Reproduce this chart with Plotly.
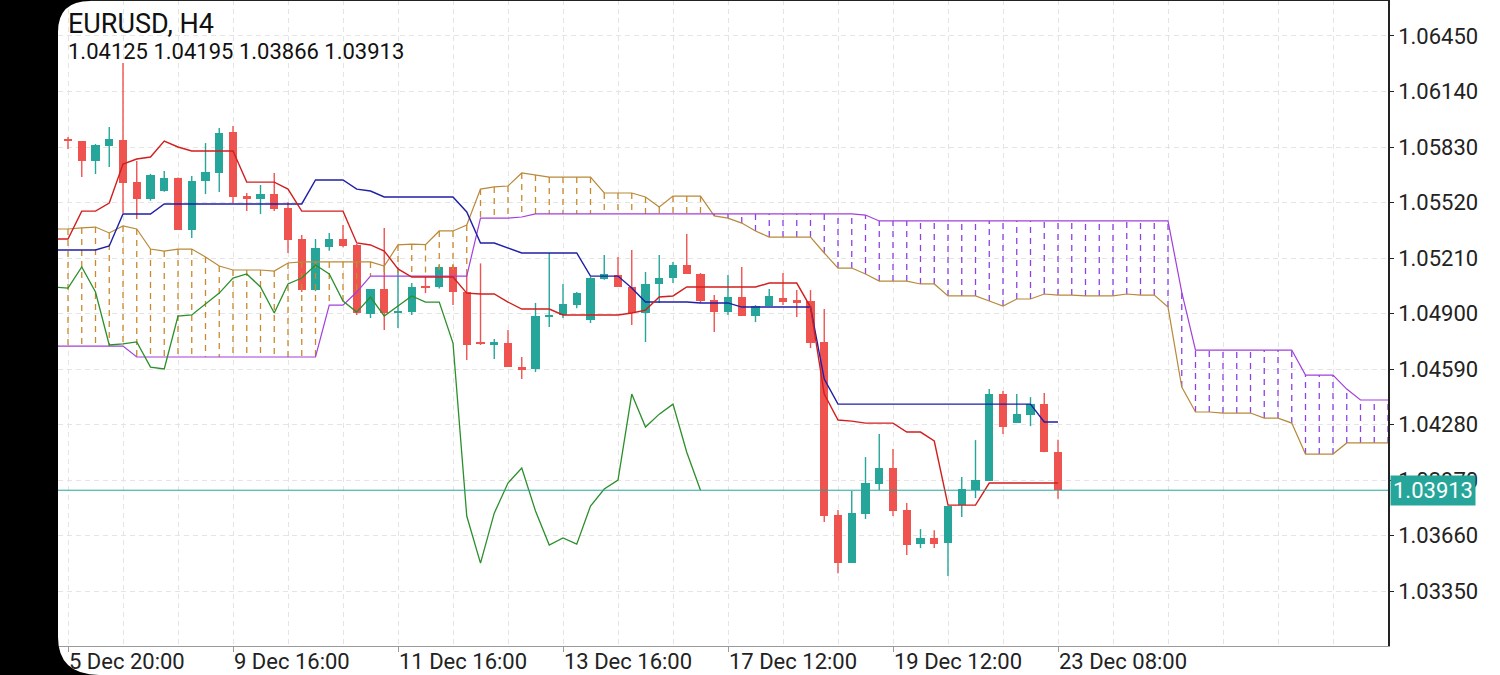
import plotly.graph_objects as go

# ---------------- data ----------------
candle_index = list(range(73))
opens = [1.05875, 1.05864, 1.05752, 1.05836, 1.05869, 1.05634, 1.05539, 1.05584, 1.05657, 1.05366,
         1.05640, 1.05685, 1.05914, 1.05556, 1.05539, 1.05567, 1.05489, 1.05316, 1.05031, 1.05271,
         1.05316, 1.05282, 1.04897, 1.05037, 1.04903, 1.04908, 1.05054, 1.05048, 1.05160, 1.05020,
         1.04741, 1.04724, 1.04735, 1.04601, 1.04590, 1.04880, 1.04892, 1.04947, 1.04864, 1.05093,
         1.05115, 1.05048, 1.04903, 1.05065, 1.05098, 1.05171, 1.05121, 1.04975, 1.04908, 1.04992,
         1.04886, 1.04942, 1.04987, 1.04975, 1.04970, 1.04741, 1.03774, 1.03506, 1.03780, 1.03947,
         1.04037, 1.03802, 1.03612, 1.03646, 1.03618, 1.03830, 1.03914, 1.03964, 1.04450, 1.04288,
         1.04333, 1.04394, 1.04125]
highs = [1.05886, 1.05864, 1.05847, 1.05942, 1.06299, 1.05752, 1.05680, 1.05696, 1.05660, 1.05668,
         1.05852, 1.05936, 1.05947, 1.05573, 1.05618, 1.05685, 1.05522, 1.05338, 1.05316, 1.05349,
         1.05394, 1.05288, 1.05037, 1.05377, 1.05143, 1.05070, 1.05104, 1.05171, 1.05171, 1.05115,
         1.05180, 1.04757, 1.04808, 1.04657, 1.04959, 1.05238, 1.05065, 1.05020, 1.05104, 1.05227,
         1.05216, 1.05255, 1.05132, 1.05227, 1.05188, 1.05344, 1.05126, 1.05003, 1.05115, 1.05160,
         1.04947, 1.05037, 1.05126, 1.05031, 1.05031, 1.04925, 1.03802, 1.03908, 1.04098, 1.04227,
         1.04143, 1.03841, 1.03696, 1.03690, 1.03825, 1.03987, 1.04193, 1.04478, 1.04467, 1.04450,
         1.04433, 1.04456, 1.04195]
lows = [1.05819, 1.05662, 1.05679, 1.05718, 1.05461, 1.05428, 1.05530, 1.05580, 1.05366, 1.05322,
        1.05567, 1.05579, 1.05517, 1.05472, 1.05456, 1.05472, 1.05238, 1.05020, 1.05025, 1.05250,
        1.05270, 1.04891, 1.04875, 1.04808, 1.04819, 1.04891, 1.05014, 1.05040, 1.04947, 1.04640,
        1.04724, 1.04646, 1.04601, 1.04534, 1.04573, 1.04824, 1.04875, 1.04930, 1.04847, 1.05088,
        1.05048, 1.04836, 1.04741, 1.04959, 1.05070, 1.05121, 1.04959, 1.04797, 1.04891, 1.04886,
        1.04852, 1.04942, 1.04947, 1.04880, 1.04707, 1.03735, 1.03450, 1.03506, 1.03752, 1.03914,
        1.03769, 1.03551, 1.03590, 1.03590, 1.03434, 1.03763, 1.03869, 1.03964, 1.04227, 1.04288,
        1.04271, 1.04125, 1.03866]
closes = [1.05864, 1.05752, 1.05841, 1.05875, 1.05629, 1.05539, 1.05674, 1.05657, 1.05366, 1.05640,
          1.05690, 1.05908, 1.05551, 1.05539, 1.05567, 1.05484, 1.05310, 1.05031, 1.05266, 1.05316,
          1.05277, 1.04903, 1.05037, 1.04903, 1.04914, 1.05048, 1.05042, 1.05160, 1.05020, 1.04724,
          1.04730, 1.04741, 1.04601, 1.04590, 1.04886, 1.04892, 1.04953, 1.05014, 1.05098, 1.05121,
          1.05048, 1.04903, 1.05065, 1.05098, 1.05171, 1.05121, 1.04970, 1.04908, 1.04992, 1.04886,
          1.04942, 1.04998, 1.04964, 1.04964, 1.04735, 1.03769, 1.03506, 1.03785, 1.03953, 1.04037,
          1.03797, 1.03607, 1.03646, 1.03612, 1.03825, 1.03920, 1.03970, 1.04450, 1.04266, 1.04338,
          1.04394, 1.04125, 1.03913]

# Ichimoku lines; index of the first value of each list
line_start = -1
tenkan = [1.05316, 1.05316, 1.05472, 1.05472, 1.05517, 1.05735, 1.05763, 1.05774, 1.05863, 1.05830,
          1.05808, 1.05808, 1.05808, 1.05808, 1.05634, 1.05634, 1.05634, 1.05595, 1.05472, 1.05472,
          1.05472, 1.05472, 1.05294, 1.05283, 1.05249, 1.05149, 1.05104, 1.05104, 1.05104, 1.05104,
          1.05014, 1.05009, 1.05009, 1.04964, 1.04925, 1.04925, 1.04925, 1.04892, 1.04892, 1.04892,
          1.04892, 1.04892, 1.04903, 1.04919, 1.04992, 1.04998, 1.05048, 1.05048, 1.05048, 1.05048,
          1.05048, 1.05048, 1.05070, 1.05070, 1.05070, 1.04936, 1.04450, 1.04305, 1.04299, 1.04288,
          1.04288, 1.04288, 1.04238, 1.04238, 1.04188, 1.03830, 1.03830, 1.03830, 1.03953, 1.03953,
          1.03953, 1.03953, 1.03953, 1.03953]
kijun = ([1.05255] * 4 + [1.05277] + [1.05456] * 3 + [1.05512] * 11 + [1.05646] * 3 +
         [1.05595, 1.05584] + [1.05551] * 6 + [1.05467, 1.05294, 1.05294, 1.05266] +
         [1.05238] * 5 + [1.05109] * 3 + [1.05042] + [1.04964] * 4 + [1.04959] * 3 +
         [1.04936] * 6 + [1.04534] + [1.04394] * 15 + [1.04294] * 2)
span_a = [1.05372, 1.05372, 1.05378, 1.05383, 1.05350, 1.05389, 1.05372, 1.05260, 1.05249, 1.05260,
          1.05260, 1.05216, 1.05165, 1.05143, 1.05143, 1.05143, 1.05137, 1.05182, 1.05188, 1.05188,
          1.05188, 1.05188, 1.05188, 1.05188, 1.05165, 1.05283, 1.05288, 1.05285, 1.05361, 1.05361,
          1.05394, 1.05595, 1.05607, 1.05612, 1.05685, 1.05674, 1.05662, 1.05662, 1.05662, 1.05662,
          1.05573, 1.05573, 1.05573, 1.05551, 1.05495, 1.05556, 1.05556, 1.05556, 1.05445, 1.05433,
          1.05405, 1.05361, 1.05327, 1.05327, 1.05327, 1.05327, 1.05238, 1.05154, 1.05154, 1.05121,
          1.05081, 1.05081, 1.05081, 1.05065, 1.05065, 1.04998, 1.04998, 1.04998, 1.04970, 1.04942,
          1.04981, 1.04981, 1.05009, 1.05003, 1.05003, 1.04998, 1.04998, 1.04998, 1.05009, 1.05003,
          1.05003, 1.04936, 1.04489, 1.04350, 1.04350, 1.04344, 1.04344, 1.04344, 1.04316, 1.04316,
          1.04288, 1.04115, 1.04115, 1.04115, 1.04177, 1.04177, 1.04177, 1.04177, 1.04126, 1.04126]
span_b = ([1.04718] * 6 + [1.04657] * 14 + [1.04947] * 2 + [1.05020] + [1.05109] * 8 +
          [1.05433] * 3 + [1.05439] + [1.05456] * 24 + [1.05450] + [1.05417] * 22 +
          [1.05020] + [1.04696] * 8 + [1.04556] * 3 + [1.04478] + [1.04417] * 4 + [1.04406])
chikou = [1.05048, 1.05042, 1.05160, 1.05020, 1.04724, 1.04730, 1.04741, 1.04601, 1.04590, 1.04886,
          1.04892, 1.04953, 1.05014, 1.05098, 1.05121, 1.05048, 1.04903, 1.05065, 1.05098, 1.05171,
          1.05121, 1.04970, 1.04908, 1.04992, 1.04886, 1.04942, 1.04998, 1.04964, 1.04964, 1.04735,
          1.03769, 1.03506, 1.03785, 1.03953, 1.04037, 1.03797, 1.03607, 1.03646, 1.03612, 1.03825,
          1.03920, 1.03970, 1.04450, 1.04266, 1.04338, 1.04394, 1.04125, 1.03913]

x_tick_index = [0, 12, 24, 36, 48, 60, 72]
x_tick_labels = ["5 Dec 20:00", "9 Dec 16:00", "11 Dec 16:00", "13 Dec 16:00",
                 "17 Dec 12:00", "19 Dec 12:00", "23 Dec 08:00"]
y_tick_values = [1.03350, 1.03660, 1.03970, 1.04280, 1.04590, 1.04900,
                 1.05210, 1.05520, 1.05830, 1.06140, 1.06450]
symbol_title = "EURUSD, H4"
last_bar_ohlc = [1.04125, 1.04195, 1.03866, 1.03913]
last_price = 1.03913

# ---------------- styles ----------------
UP = "#26a69a"
DOWN = "#ef5350"
FONT = "Roboto"

fig = go.Figure()

# candle bodies
body_base = [min(o, c) for o, c in zip(opens, closes)]
body_h = [abs(c - o) for o, c in zip(opens, closes)]
body_col = [UP if c >= o else DOWN for o, c in zip(opens, closes)]
fig.add_trace(go.Bar(x=candle_index, y=body_h, base=body_base, width=0.6,
                     marker=dict(color=body_col, line=dict(width=0)), hoverinfo="skip"))

# wicks
for col, is_up in ((UP, True), (DOWN, False)):
    wx, wy = [], []
    for i, o, h, l, c in zip(candle_index, opens, highs, lows, closes):
        if (c >= o) == is_up:
            wx += [i, i, None]
            wy += [l, h, None]
    fig.add_trace(go.Scatter(x=wx, y=wy, mode="lines", line=dict(color=col, width=1.4),
                             hoverinfo="skip"))

# cloud hatching
ax_, ay_, bx_, by_ = [], [], [], []
for k, (a, b) in enumerate(zip(span_a, span_b)):
    x = k + line_start
    if a >= b:
        ax_ += [x, x, None]
        ay_ += [a, b, None]
    else:
        bx_ += [x, x, None]
        by_ += [a, b, None]
fig.add_trace(go.Scatter(x=ax_, y=ay_, mode="lines",
                         line=dict(color="#c98a2e", width=1.3, dash="6px,5px"), hoverinfo="skip"))
fig.add_trace(go.Scatter(x=bx_, y=by_, mode="lines",
                         line=dict(color="#8d43e3", width=1.3, dash="6px,5px"), hoverinfo="skip"))

cloud_x = [k + line_start for k in range(len(span_a))]
fig.add_trace(go.Scatter(x=cloud_x, y=span_a, mode="lines",
                         line=dict(color="#b8893a", width=1.2), hoverinfo="skip"))
fig.add_trace(go.Scatter(x=cloud_x, y=span_b, mode="lines",
                         line=dict(color="#a23fdc", width=1.2), hoverinfo="skip"))

fig.add_trace(go.Scatter(x=[k + line_start for k in range(len(chikou))], y=chikou, mode="lines",
                         line=dict(color="#2b8f2b", width=1.3), hoverinfo="skip"))
fig.add_trace(go.Scatter(x=[k + line_start for k in range(len(kijun))], y=kijun, mode="lines",
                         line=dict(color="#1f1fa8", width=1.4), hoverinfo="skip"))
fig.add_trace(go.Scatter(x=[k + line_start for k in range(len(tenkan))], y=tenkan, mode="lines",
                         line=dict(color="#d11f1f", width=1.4), hoverinfo="skip"))

grid = dict(gridcolor="#e4e4e4", griddash="5px,4px", gridwidth=1)

fig.update_xaxes(range=[-0.727, 96.0], showgrid=True, **grid,
                 tickvals=x_tick_index, showticklabels=False, ticks="outside", ticklen=5,
                 tickcolor="#9a9a9a", showline=True, linecolor="#9a9a9a", linewidth=1,
                 zeroline=False,
                 minor=dict(dtick=4, tick0=0, showgrid=True, gridcolor="#e4e4e4",
                            griddash="5px,4px", ticks=""))
fig.update_yaxes(range=[1.03043, 1.06651], side="right", tickvals=y_tick_values,
                 tickformat=".5f", ticks="outside", ticklen=4, tickcolor="#222",
                 showline=True, linecolor="#222", linewidth=1.5, zeroline=False,
                 showgrid=True, **grid,
                 tickfont=dict(family=FONT, size=22, color="#222"))

annotations = []
for xi, lab in zip(x_tick_index, x_tick_labels):
    annotations.append(dict(x=xi, xref="x", y=-0.0235, yref="paper", text=lab,
                            showarrow=False, xanchor="left", yanchor="middle", xshift=-1,
                            font=dict(family=FONT, size=22, color="#222")))
annotations.append(dict(x=0.006, xref="paper", y=0.963, yref="paper", text=symbol_title,
                        showarrow=False, xanchor="left", yanchor="middle",
                        font=dict(family=FONT, size=27, color="#111")))
annotations.append(dict(x=0.006, xref="paper", y=0.921, yref="paper",
                        text=" ".join(f"{v:.5f}" for v in last_bar_ohlc),
                        showarrow=False, xanchor="left", yanchor="middle",
                        font=dict(family=FONT, size=22, color="#111")))
annotations.append(dict(x=1.0015, xref="paper", y=last_price, yref="y", text=f"{last_price:.5f}",
                        showarrow=False, xanchor="left", yanchor="middle", bgcolor=UP,
                        borderpad=2, font=dict(family=FONT, size=22, color="white")))

shapes = [
    dict(type="line", xref="paper", x0=0, x1=1, yref="y", y0=last_price, y1=last_price,
         line=dict(color=UP, width=1)),
    dict(type="line", xref="paper", x0=0, x1=1, yref="paper", y0=1, y1=1,
         line=dict(color="#222", width=2)),
    dict(type="path", xref="paper", yref="paper", layer="above",
         path=("M -0.0440,1.01 L 0.0241,1.01 L 0.0241,0.9985 Q 0,0.9985 0,0.9505 "
               "L 0,0.0139 Q 0,-0.0449 0.0316,-0.0449 L -0.0440,-0.0449 Z"),
         fillcolor="black", line=dict(width=0)),
]

fig.update_layout(width=1500, height=675, margin=dict(l=58, r=112, t=0, b=29),
                  plot_bgcolor="white", paper_bgcolor="white", showlegend=False,
                  bargap=0, barmode="overlay", annotations=annotations, shapes=shapes,
                  font=dict(family=FONT))

fig.write_html("out.html", config={"displayModeBar": False},
               post_script="document.body.style.margin='0';")
